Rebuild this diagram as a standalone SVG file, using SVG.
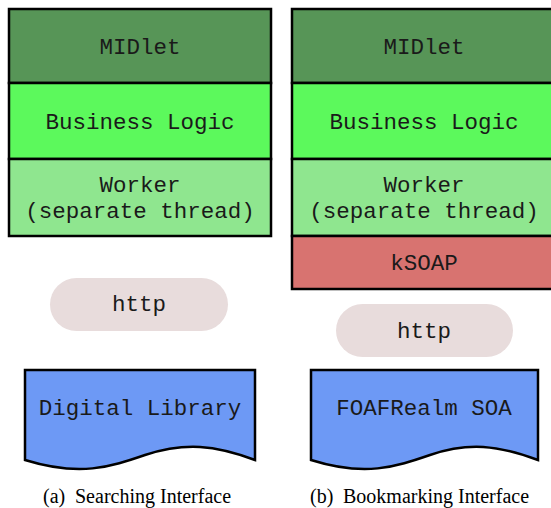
<svg xmlns="http://www.w3.org/2000/svg" width="551" height="508" viewBox="0 0 551 508">
<style>
.box{stroke:#000;stroke-width:2.5}
.mid{fill:#579557}
.bl{fill:#5cf95c}
.wk{fill:#8fe68f}
.ks{fill:#d87370}
.pill{fill:#e8dcdc}
.doc{fill:#6d99f5;stroke:#000;stroke-width:2.5}
.t{font-family:"Liberation Mono","Courier New",monospace;font-size:22.5px;fill:#1a1a1a;text-anchor:middle}
.cap{font-family:"Liberation Serif","Times New Roman",serif;font-size:20px;fill:#000}
</style>
<g id="connectors"></g>
<g id="a-midlet"><rect class="box mid" x="9" y="9" width="262" height="74"/><text class="t" x="140" y="54">MIDlet</text></g>
<g id="a-business"><rect class="box bl" x="9" y="83" width="262" height="76"/><text class="t" x="140" y="129">Business Logic</text></g>
<g id="a-worker"><rect class="box wk" x="9" y="159" width="262" height="77"/><text class="t" x="140" y="192">Worker</text><text class="t" x="140" y="218">(separate thread)</text></g>
<g id="a-http"><rect class="pill" x="50" y="278" width="178" height="53" rx="26.5"/><text class="t" x="139" y="311">http</text></g>
<g id="a-library"><path class="doc" d="M25,370 H255 V460 C215,445 185,442 145,455 C110,467 80,477 25,460 Z"/><text class="t" x="140" y="415">Digital Library</text></g>
<text class="cap" y="503"><tspan x="43">(a)</tspan><tspan x="75">Searching Interface</tspan></text>
<g id="b-midlet"><rect class="box mid" x="292" y="9" width="262" height="74"/><text class="t" x="424" y="54">MIDlet</text></g>
<g id="b-business"><rect class="box bl" x="292" y="83" width="262" height="76"/><text class="t" x="424" y="129">Business Logic</text></g>
<g id="b-worker"><rect class="box wk" x="292" y="159" width="262" height="77"/><text class="t" x="424" y="192">Worker</text><text class="t" x="424" y="218">(separate thread)</text></g>
<g id="b-ksoap"><rect class="box ks" x="292" y="236" width="262" height="53"/><text class="t" x="424" y="270">kSOAP</text></g>
<g id="b-http"><rect class="pill" x="336" y="304" width="177" height="53" rx="26.5"/><text class="t" x="424" y="338">http</text></g>
<g id="b-foaf"><path class="doc" d="M311,370 H538 V460 C498,445 468,442 430,455 C395,467 365,477 311,460 Z"/><text class="t" x="424" y="415">FOAFRealm SOA</text></g>
<text class="cap" y="503"><tspan x="310">(b)</tspan><tspan x="343">Bookmarking Interface</tspan></text>
</svg>
